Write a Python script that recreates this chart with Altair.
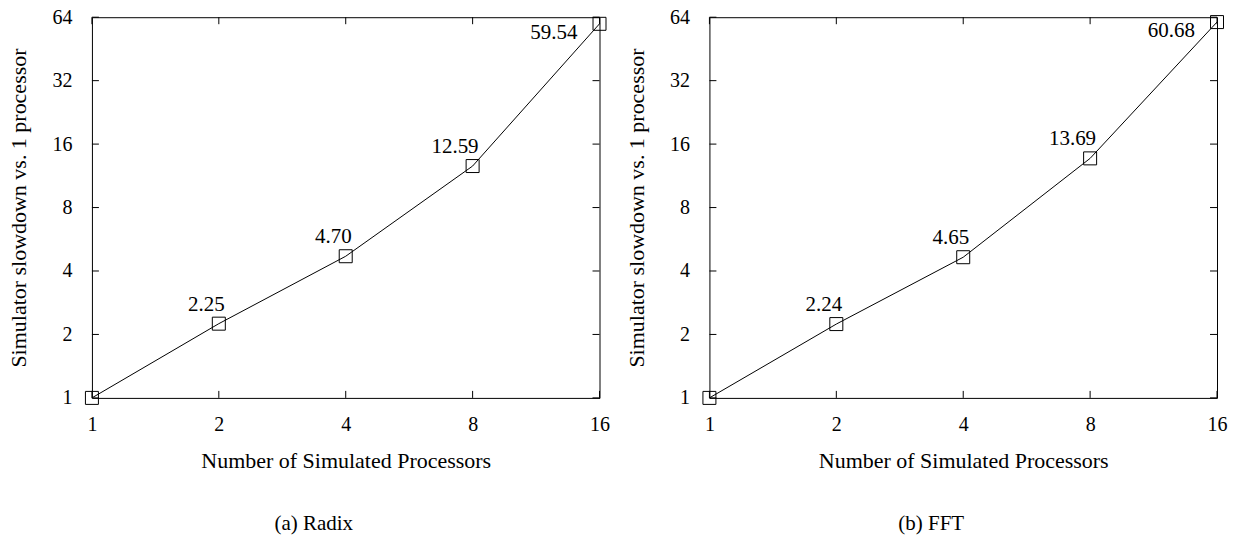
import altair as alt
import pandas as pd

procs = [1, 2, 4, 8, 16]
radix = [1.00, 2.25, 4.70, 12.59, 59.54]
fft = [1.00, 2.24, 4.65, 13.69, 60.68]
radix_labels = ["", "2.25", "4.70", "12.59", "59.54"]
fft_labels = ["", "2.24", "4.65", "13.69", "60.68"]
x_ticks = [1, 2, 4, 8, 16]
y_ticks = [1, 2, 4, 8, 16, 32, 64]
captions = ["(a) Radix", "(b) FFT"]
x_title = "Number of Simulated Processors"
y_title = "Simulator slowdown vs. 1 processor"

W, H = 508, 381
FONT = "Liberation Serif"
FS = 21
TICK = 7


def panel(values, labels, caption):
    df = pd.DataFrame({"procs": procs, "slowdown": values, "label": labels,
                       "idx": list(range(len(procs)))})
    xs = alt.Scale(type="log", base=2, domain=[1, 16], nice=False)
    ys = alt.Scale(type="log", base=2, domain=[1, 64], nice=False)
    x_axis = alt.Axis(values=x_ticks, ticks=False, tickSize=0, domain=False, grid=False,
                      labelPadding=17, title=x_title, titlePadding=16, format="d",
                      labelFlush=False, labelOverlap=False, labelBound=False)
    y_axis = alt.Axis(values=y_ticks, ticks=False, tickSize=0, domain=False, grid=False,
                      labelPadding=20, title=y_title, titlePadding=21, format="d",
                      labelFlush=False, labelOverlap=False, labelBound=False)
    xe = alt.X("procs:Q", scale=xs, axis=x_axis)
    ye = alt.Y("slowdown:Q", scale=ys, axis=y_axis)
    base = alt.Chart(df)
    line = base.mark_line(color="black", strokeWidth=1).encode(x=xe, y=ye)
    pts = base.mark_point(shape="square", size=169, filled=False, color="black",
                          strokeWidth=1, opacity=1).encode(x=xe, y=ye)
    lab1 = base.transform_filter("datum.idx >= 1 && datum.idx <= 3").mark_text(
        align="right", baseline="alphabetic", dx=6, dy=-13, font=FONT, fontSize=FS,
        color="black").encode(x=xe, y=ye, text="label:N")
    lab2 = base.transform_filter("datum.idx == 4").mark_text(
        align="right", baseline="alphabetic", dx=-22, dy=15, font=FONT, fontSize=FS,
        color="black").encode(x=xe, y=ye, text="label:N")

    xt = alt.Chart(pd.DataFrame({"procs": x_ticks}))
    yt = alt.Chart(pd.DataFrame({"slowdown": y_ticks}))
    bottom = xt.mark_rule(color="black", strokeWidth=1).encode(
        x=xe, y=alt.value(H), y2=alt.value(H - TICK))
    top = xt.mark_rule(color="black", strokeWidth=1).encode(
        x=xe, y=alt.value(0), y2=alt.value(TICK))
    left = yt.mark_rule(color="black", strokeWidth=1).encode(
        y=ye, x=alt.value(0), x2=alt.value(TICK))
    right = yt.mark_rule(color="black", strokeWidth=1).encode(
        y=ye, x=alt.value(W), x2=alt.value(W - TICK))

    return alt.layer(line, bottom, top, left, right, pts, lab1, lab2).properties(
        width=W, height=H,
        title=alt.Title(caption, orient="bottom", anchor="middle", dx=-32, offset=41,
                        font=FONT, fontSize=FS, fontWeight="normal", color="black"),
    )


chart = alt.hconcat(
    panel(radix, radix_labels, captions[0]),
    panel(fft, fft_labels, captions[1]),
    spacing=110, bounds="flush",
).properties(
    background="white",
    padding={"left": 7, "top": 6, "right": 5, "bottom": 5},
).configure_view(
    stroke="black", strokeWidth=1,
).configure_axis(
    labelFont=FONT, labelFontSize=20, labelColor="black",
    titleFont=FONT, titleFontSize=22, titleColor="black", titleFontWeight="normal",
)

chart.save("out.html", embed_options={"renderer": "svg", "actions": False})
